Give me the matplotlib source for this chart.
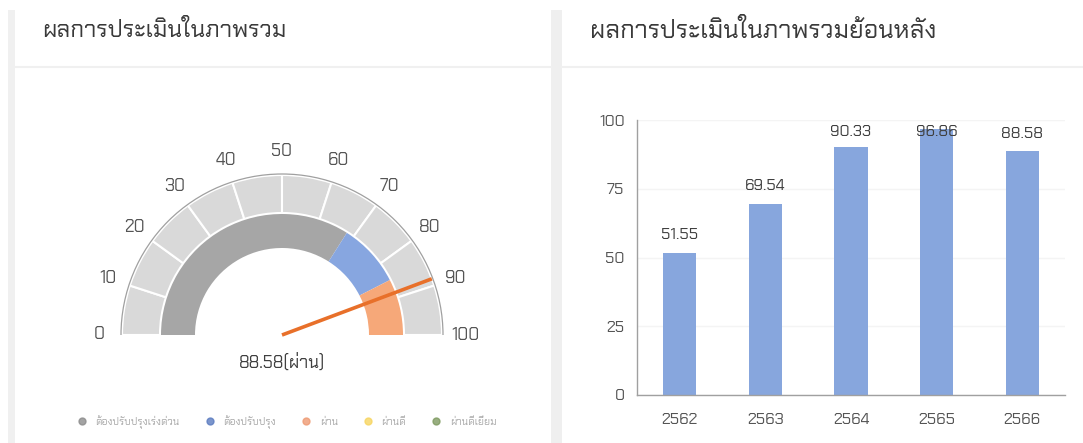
import matplotlib
matplotlib.use('Agg')
import matplotlib.pyplot as plt
from matplotlib.lines import Line2D
from matplotlib.patches import Arc
import numpy as np

plt.rcParams['font.family'] = ['Chakra Petch', 'DejaVu Sans']

# data
score = 88.58
score_label = 'ผ่าน'
band_values = [68, 17, 15]
band_colors = ['#A6A6A6', '#87A6E0', '#F6A879']
legend_labels = ['ต้องปรับปรุงเร่งด่วน', 'ต้องปรับปรุง', 'ผ่าน', 'ผ่านดี', 'ผ่านดีเยี่ยม']
legend_colors = ['#8C8C8C', '#5A7BC0', '#EE9A73', '#F7D560', '#7E9A60']
scale_ticks = list(range(0, 101, 10))

years = ['2562', '2563', '2564', '2565', '2566']
scores = [51.55, 69.54, 90.33, 96.86, 88.58]

W, H = 1083, 443
fig = plt.figure(figsize=(W / 100, H / 100), dpi=100)

# card decorations
deco = fig.add_axes([0, 0, 1, 1])
deco.set_xlim(0, W)
deco.set_ylim(H, 0)
deco.axis('off')
deco.fill_between([8, 15], 10, H, color='#F0F0F0', lw=0)
deco.fill_between([551, 562], 10, H, color='#EFEFEF', lw=0)
deco.plot([15, 551], [67, 67], color='#F0F0F0', lw=1.5)
deco.plot([562, W], [67, 67], color='#F0F0F0', lw=1.5)
deco.text(42, 31, 'ผลการประเมินในภาพรวม', fontsize=17, color='#3A3A3A', va='center')
deco.text(590, 31, 'ผลการประเมินในภาพรวมย้อนหลัง', fontsize=18, color='#3A3A3A', va='center')

# gauge (1 data unit = 1 pixel)
cx, cy = 282, 335
g = fig.add_axes([(cx - 200) / W, (H - cy - 60) / H, 400 / W, 260 / H])
g.set_xlim(-200, 200)
g.set_ylim(-60, 200)
g.set_aspect('equal')
g.axis('off')

outer = [10] * 10 + [100]
g.pie(outer, radius=160, startangle=180, counterclock=False,
      colors=['#D9D9D9'] * 10 + ['none'],
      wedgeprops=dict(width=38, edgecolor='white', linewidth=1.5))
inner = band_values + [100]
g.pie(inner, radius=121, startangle=180, counterclock=False,
      colors=band_colors + ['none'],
      wedgeprops=dict(width=34, linewidth=0))
g.set_xlim(-200, 200)
g.set_ylim(-60, 200)
g.add_patch(Arc((0, 0), 322, 322, theta1=0, theta2=180, color='#A0A0A0', lw=0.9))

for t in scale_ticks:
    a = np.radians(180 - 1.8 * t)
    g.text(183 * np.cos(a), 183 * np.sin(a), str(t), fontsize=12.5,
           color='#555555', ha='center', va='center')

a = np.radians(180 - 1.8 * score)
g.plot([0, 160 * np.cos(a)], [0, 160 * np.sin(a)], color='#E8702A', lw=2.6,
       solid_capstyle='butt')
g.text(0, -28, '%.2f(%s)' % (score, score_label), fontsize=12.5, color='#404040',
       ha='center', va='center')

handles = [Line2D([], [], marker='o', ls='none', color=c, markersize=5, alpha=0.8)
           for c in legend_colors]
fig.legend(handles, legend_labels, loc='center', bbox_to_anchor=(284 / W, 1 - 422 / H),
           ncol=5, frameon=False, fontsize=7.5, labelcolor='#A8A8A8',
           handletextpad=0.3, columnspacing=1.9)

# bar chart
ax = fig.add_axes([637 / W, (H - 395) / H, 428 / W, 275 / H])
x = np.arange(len(years))
ax.bar(x, scores, width=0.39, color='#87A6DD', zorder=2)
for xi, v in zip(x, scores):
    ax.text(xi, min(v + 6.5, 95.6), '%.2f' % v, ha='center', va='center',
            fontsize=11.5, color='#404040', zorder=3)
ax.set_xlim(-0.5, len(years) - 0.5)
ax.set_ylim(0, 100)
ax.set_yticks([0, 25, 50, 75, 100])
ax.set_xticks(x)
ax.set_xticklabels(years)
ax.tick_params(length=0, labelsize=11.5, colors='#555555')
ax.tick_params(axis='y', pad=9)
ax.tick_params(axis='x', pad=13)
ax.grid(axis='y', color='#F4F4F4', lw=1, zorder=0)
for s in ['top', 'right']:
    ax.spines[s].set_visible(False)
for s in ['left', 'bottom']:
    ax.spines[s].set_color('#A0A0A0')
    ax.spines[s].set_linewidth(1)

fig.savefig('out.png', dpi=100)
